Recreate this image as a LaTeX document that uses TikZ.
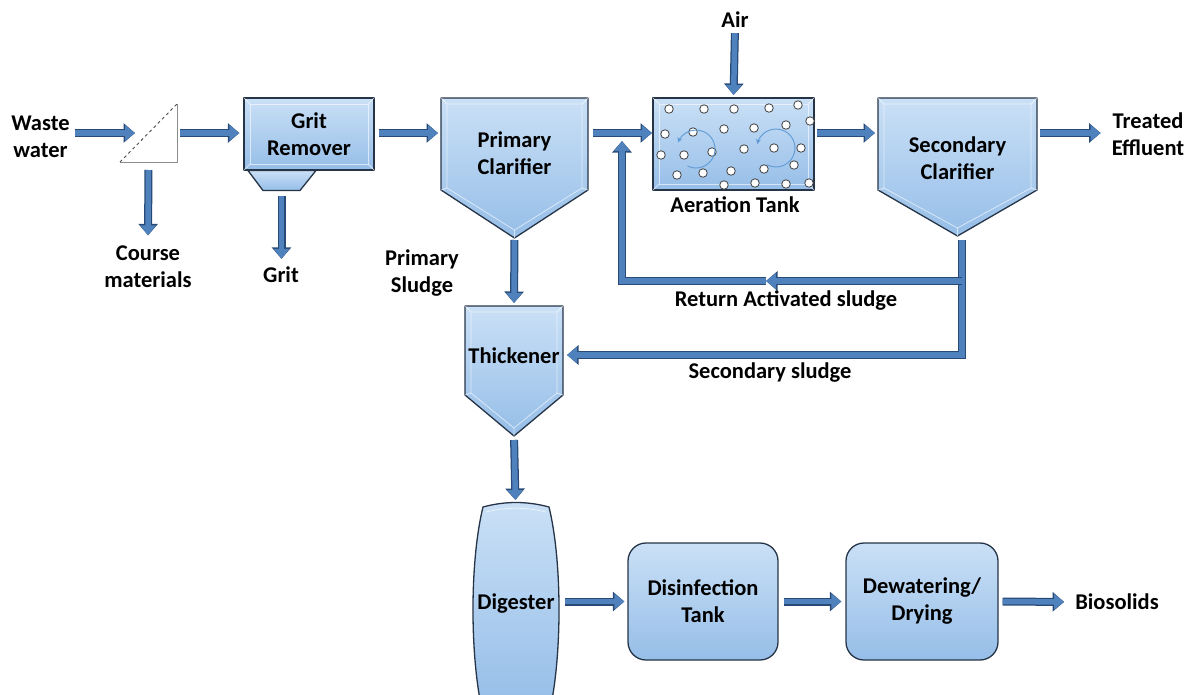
\documentclass[tikz,border=0pt]{standalone}
\usepackage{fontspec}
\setmainfont{Carlito}
\usetikzlibrary{arrows.meta}
\definecolor{fillA}{RGB}{202,224,246}
\definecolor{fillB}{RGB}{150,190,232}
\definecolor{edge}{RGB}{38,52,72}
\definecolor{arr}{RGB}{79,129,189}
\definecolor{arrd}{RGB}{40,74,118}
\definecolor{swirl}{RGB}{95,155,215}
\tikzset{
  unit/.style={top color=fillA, bottom color=fillB, draw=edge, line width=1.3pt, line join=round},
  shp/.style={inner sep=0pt, outer sep=0pt, draw=none, fill=none},
  bev/.style={draw=white, opacity=0.6, line width=0.8pt},
  flow/.style={line width=5.5pt, draw=arr, -{Triangle[length=10pt,width=15pt]},
    preaction={draw=arrd, line width=8pt, -{Triangle[length=11.5pt,width=19pt]}}},
  lbl/.style={font=\fontsize{22.5}{27}\selectfont\bfseries, align=center, inner sep=0pt},
  bubble/.style={circle, fill=white, draw=black!75, line width=0.8pt, inner sep=0pt, minimum size=8.5pt},
  swirlarr/.style={draw=swirl, line width=0.9pt, -{Stealth[length=5pt,width=5pt]}}
}
\newcommand\mybevrect[4]{%
  \draw[bev] ({#1+6},{#2+6}) rectangle ({#3-6},{#4-6});
  \draw[bev] (#1,#2) -- ({#1+6},{#2+6}) (#3,#2) -- ({#3-6},{#2+6})
             (#1,#4) -- ({#1+6},{#4-6}) (#3,#4) -- ({#3-6},{#4-6});}
\newcommand\mybevpent[5]{%
  \draw[bev] ({#1+6},{#3+6}) -- ({#2-6},{#3+6}) -- ({#2-6},{#4-2}) -- ({(#1+#2)/2},{#5-8}) -- ({#1+6},{#4-2}) -- cycle;
  \draw[bev] (#1,#3) -- ({#1+6},{#3+6}) (#2,#3) -- ({#2-6},{#3+6})
             (#1,#4) -- ({#1+6},{#4-2}) (#2,#4) -- ({#2-6},{#4-2})
             ({(#1+#2)/2},#5) -- ({(#1+#2)/2},{#5-8});}
\begin{document}
\begin{tikzpicture}[x=1pt,y=-1pt]
\path[use as bounding box] (0,0) rectangle (1195,694);
\clip (0,0) rectangle (1195,694);
\coordinate (ml) at (0,133);

% ---- shape nodes
\node[shp, minimum width=57pt, minimum height=58pt] (sc) at (148.5,133) {};
\draw[black!45, line width=1pt] (sc.north east) -- (sc.south east) -- (sc.south west);
\draw[black!70, line width=0.9pt, dashed] (sc.south west) -- (sc.north east);

\node[shp, minimum width=71pt, minimum height=20pt] (hp) at (281.5,180.5) {};
\draw[unit] ([xshift=2pt]hp.north west) -- ([xshift=-1pt]hp.north east) -- ([xshift=-17pt]hp.south east) -- ([xshift=17pt]hp.south west) -- cycle;
\node[unit, minimum width=130pt, minimum height=72pt] (gr) at (309,134) {};
\mybevrect{244}{98}{374}{170}
\node[lbl] (grt) at (309,134.5) {Grit\\Remover};

\node[shp, minimum width=147pt, minimum height=140pt] (pc) at (514.5,168) {};
\draw[unit] (pc.north west) -- (pc.north east) -- ([yshift=48pt]pc.south east) -- (pc.south) -- ([yshift=48pt]pc.south west) -- cycle;
\mybevpent{441}{588}{98}{190}{238}
\node[lbl] (pct) at (514.5,153) {Primary\\Clarifier};

\node[shp, minimum width=98pt, minimum height=130pt] (th) at (514,371) {};
\draw[unit] (th.north west) -- (th.north east) -- ([yshift=41pt]th.south east) -- (th.south) -- ([yshift=41pt]th.south west) -- cycle;
\mybevpent{465}{563}{306}{395}{436}
\node[lbl] (tht) at (514,356) {Thickener};

\node[shp, minimum width=83pt, minimum height=194pt] (dg) at (515.5,600) {};
\draw[unit] (483,507) .. controls (505,501) and (527,501) .. (549,507)
  .. controls (562,560) and (562,650) .. (551,705) -- (481,705)
  .. controls (470,650) and (470,560) .. (483,507) -- cycle;
\draw[bev] (486,512) .. controls (506,507) and (526,507) .. (546,512);
\node[lbl] (dgt) at (516,604) {Digester};

\node[unit, lbl, rounded corners=18pt, minimum width=150pt, minimum height=117pt] (ds) at (703,601.5) {Disinfection\\Tank};
\node[unit, lbl, rounded corners=18pt, minimum width=152pt, minimum height=117pt] (dw) at (922,601.5) {Dewatering/\\Drying};

\node[shp, minimum width=161pt, minimum height=92pt] (at) at (733.5,144) {};
\draw[unit] (at.south west) rectangle (at.north east);
\mybevrect{653}{98}{814}{190}

\node[shp, minimum width=159pt, minimum height=138pt] (scl) at (957.5,167) {};
\draw[unit] (scl.north west) -- (scl.north east) -- ([yshift=46pt]scl.south east) -- (scl.south) -- ([yshift=46pt]scl.south west) -- cycle;
\mybevpent{878}{1037}{98}{190}{236}
\node[lbl] (sct) at (957.5,158) {Secondary\\Clarifier};

% bubbles
\foreach \p [count=\i] in {(669,109),(704,109),(734,109),(769,108),(798,105),(810,121),
  (665,134),(693,132),(724,129),(754,128),(786,125),
  (661,155),(684,155),(712,152),(744,149),(774,148),(801,148),
  (677,175),(703,173),(731,171),(764,169),(794,165),
  (724,185),(755,183),(786,184),(809,183)}
  \node[bubble] (b\i) at \p {};
% swirls
\draw[swirlarr] (696,149) ++(-117:19pt) arc[start angle=-117, end angle=160, radius=19pt];
\draw[swirlarr] (776,148) ++(-118:19pt) arc[start angle=-118, end angle=168, radius=19pt];

% ---- text nodes
\node[lbl] (ww) at (40.5,136.5) {Waste\\water};
\node[lbl] (cm) at (148,266.5) {Course\\materials};
\node[lbl] (gt) at (281,275) {Grit};
\node[lbl] (ps) at (422,273.5) {Primary\\Sludge};
\node[lbl] (air) at (735,20) {Air};
\node[lbl] (atl) at (735,205) {Aeration Tank};
\node[lbl] (te) at (1148,134.5) {Treated\\Effluent};
\node[lbl] (ral) at (786,300) {Return Activated sludge};
\node[lbl] (ssl) at (770,373) {Secondary sludge};
\node[lbl] (bio) at (1117,602) {Biosolids};

% ---- connectors
\draw[flow, shorten <=5pt] (ww.east|-sc.west) -- ([xshift=15pt]sc.west);
\draw[flow, shorten <=3pt, shorten >=4pt] (sc.east) -- (sc.east-|gr.west);
\draw[flow, shorten <=4pt, shorten >=3pt] (gr.east|-ml) -- (pc.west|-ml);
\draw[flow, shorten <=5pt, shorten >=1pt] (pc.east|-ml) -- (at.west|-ml);
\draw[flow, shorten <=3pt, shorten >=3pt] (at.east|-ml) -- (scl.west|-ml);
\draw[flow, shorten <=3pt, shorten >=11pt] (scl.east|-ml) -- (te.west|-ml);
\draw[flow, shorten <=5pt, shorten >=3pt] (air.south) -- (at.north);
\draw[flow, shorten <=8pt, shorten >=10pt] (sc.south) -- (cm.north);
\draw[flow, shorten <=5pt, shorten >=8pt] (hp.south) -- (hp.south|-gt.north);
\draw[flow, shorten <=2pt, shorten >=3pt] (pc.south) -- (th.north);
\draw[flow, shorten <=4pt, shorten >=3pt] (th.south) -- (dg.north);
\draw[flow, shorten <=8pt, shorten >=3pt] (dg.east|-ds.west) -- (ds.west);
\draw[flow, shorten <=5pt, shorten >=4pt] (ds.east) -- (dw.west);
\draw[flow, shorten <=4pt, shorten >=11pt] (dw.east) -- (bio.west);

% return / secondary sludge
\coordinate (rj) at (962,281);
\coordinate (rm) at (766,281);
\coordinate (rc) at (622,281);
\coordinate (ru) at (622,141);
\coordinate (ss) at (962,355);
\draw[flow] (rm) -- (rc) -- (ru);
\draw[flow, shorten <=4pt, shorten >=4pt] ([xshift=4.5pt]scl.south) |- (th.east|-ss);
\draw[flow] (rj) -- (rm);
\end{tikzpicture}
\end{document}
